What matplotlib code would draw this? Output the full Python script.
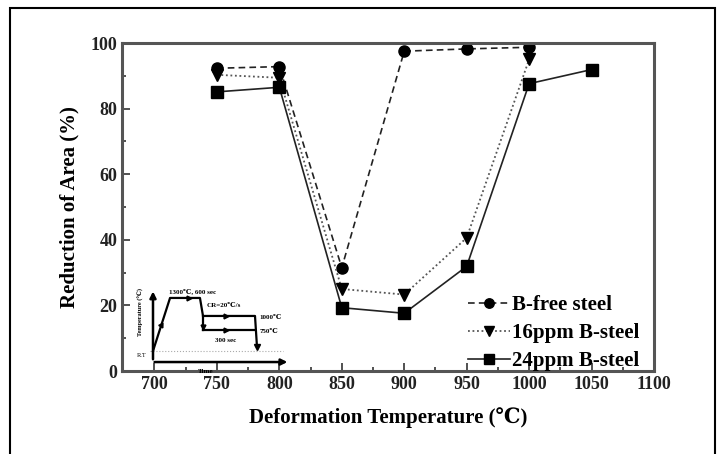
import matplotlib
matplotlib.use("Agg")
import matplotlib.pyplot as plt
from matplotlib.ticker import MultipleLocator
from matplotlib.patches import Rectangle

plt.rcParams['font.family'] = ['Liberation Serif', 'DejaVu Serif']

# Data
temps_free = [750, 800, 850, 900, 950, 1000]
bfree = [92.3, 92.8, 31.5, 97.5, 98.2, 98.7]
temps_16 = [750, 800, 850, 900, 950, 1000]
b16 = [90.3, 89.4, 25.0, 23.3, 40.6, 95.0]
temps_24 = [750, 800, 850, 900, 950, 1000, 1050]
b24 = [85.1, 86.5, 19.3, 17.6, 31.9, 87.6, 91.9]
labels = ["B-free steel", "16ppm B-steel", "24ppm B-steel"]
xticks = [700, 750, 800, 850, 900, 950, 1000, 1050, 1100]
yticks = [0, 20, 40, 60, 80, 100]

# Inset schematic (heat-treatment schedule), in inset units
prof_x = [11.25, 21.9, 40.6, 42.5, 42.5]
prof_y = [26.7, 85.6, 85.6, 65.6, 50.0]
upper_x = [42.5, 75.0, 76.25]
upper_y = [65.6, 65.6, 31.1]
lower_x = [42.5, 75.0]
lower_y = [50.0, 50.0]

fig = plt.figure(figsize=(7.2, 4.54), dpi=100)
fig.patches.append(Rectangle((10/720, -0.05), (715-10)/720, 1.05 - 8/454,
                             transform=fig.transFigure, fill=False,
                             edgecolor='black', linewidth=1.5))

ax = fig.add_axes([122/720, 1 - 371/454, (654-122)/720, (371-43)/454])
ax.plot(temps_free, bfree, linestyle=(0, (4, 2.5)), color='#222222', lw=1.2,
        marker='o', markersize=8, markerfacecolor='black', markeredgecolor='black', label=labels[0])
ax.plot(temps_16, b16, linestyle=(0, (1, 1.5)), color='#555555', lw=1.3,
        marker='v', markersize=9, markerfacecolor='black', markeredgecolor='black', label=labels[1])
ax.plot(temps_24, b24, linestyle='-', color='#222222', lw=1.2,
        marker='s', markersize=8, markerfacecolor='black', markeredgecolor='black', label=labels[2])

ax.set_xlim(674, 1100)
ax.set_ylim(0, 100)
ax.set_xticks(xticks)
ax.set_yticks(yticks)
ax.xaxis.set_minor_locator(MultipleLocator(25))
ax.yaxis.set_minor_locator(MultipleLocator(10))
ax.tick_params(which='both', direction='in', width=1.2, colors='#333333')
ax.tick_params(which='major', length=6, labelsize=13, labelcolor='#222222')
ax.tick_params(which='minor', length=3)
for lab in ax.get_xticklabels() + ax.get_yticklabels():
    lab.set_fontweight('bold')
for s in ax.spines.values():
    s.set_linewidth(2.2)
    s.set_color('#555555')

ax.set_xlabel("Deformation Temperature (℃)", fontsize=15, fontweight='bold', labelpad=10)
ax.set_ylabel("Reduction of Area (%)", fontsize=15, fontweight='bold', labelpad=8)

leg = ax.legend(loc='lower right', bbox_to_anchor=(1.0, -0.045), frameon=False,
                prop={'family': 'Liberation Serif', 'weight': 'bold', 'size': 15},
                handlelength=2.0, handletextpad=0.1, labelspacing=0.38, borderaxespad=0.3,
                markerscale=0.85)

# Inset
ins = fig.add_axes([135/720, 1 - 375/454, 160/720, 90/454])
ins.set_xlim(0, 100)
ins.set_ylim(0, 100)
ins.axis('off')
ins.annotate('', xy=(11.25, 96), xytext=(11.25, 14.4),
             arrowprops=dict(arrowstyle='-|>', lw=1.8, color='black', mutation_scale=9))
ins.annotate('', xy=(97, 14.4), xytext=(10.5, 14.4),
             arrowprops=dict(arrowstyle='-|>', lw=1.8, color='black', mutation_scale=9))
ins.plot([9.4, 92.5], [26.7, 26.7], color='#aaaaaa', lw=0.8, linestyle=':')
ins.plot(prof_x, prof_y, color='black', lw=1.6)
ins.plot(upper_x, upper_y, color='black', lw=1.6)
ins.plot(lower_x, lower_y, color='black', lw=1.6)
ins.plot([16.5], [56], marker=(3, 0, -32), color='black', markersize=4)
ins.plot([34], [85.6], marker='>', color='black', markersize=3.5)
ins.plot([42.5], [53], marker='v', color='black', markersize=3.5)
ins.plot([57], [65.6], marker='>', color='black', markersize=3.5)
ins.plot([57], [50], marker='>', color='black', markersize=3.5)
ins.plot([76.25], [31.1], marker='v', color='black', markersize=4)
ins.text(4, 97, "Temperature (℃)", rotation=90, fontsize=4.5, fontweight='bold', va='top', ha='center')
ins.text(4, 22, "R.T", fontsize=4.5, ha='center', va='center')
ins.text(21, 93, "1300℃, 600 sec", fontsize=5, fontweight='bold', ha='left', va='center')
ins.text(45, 77, "CR=20℃/s", fontsize=5, fontweight='bold', ha='left', va='center')
ins.text(78, 64, "1000℃", fontsize=5, fontweight='bold', ha='left', va='center')
ins.text(78, 48, "750℃", fontsize=5, fontweight='bold', ha='left', va='center')
ins.text(50, 38, "300 sec", fontsize=5, fontweight='bold', ha='left', va='center')
ins.text(44, 4, "Time", fontsize=5, fontweight='bold', ha='center', va='center')

fig.savefig("out.png", dpi=100)
